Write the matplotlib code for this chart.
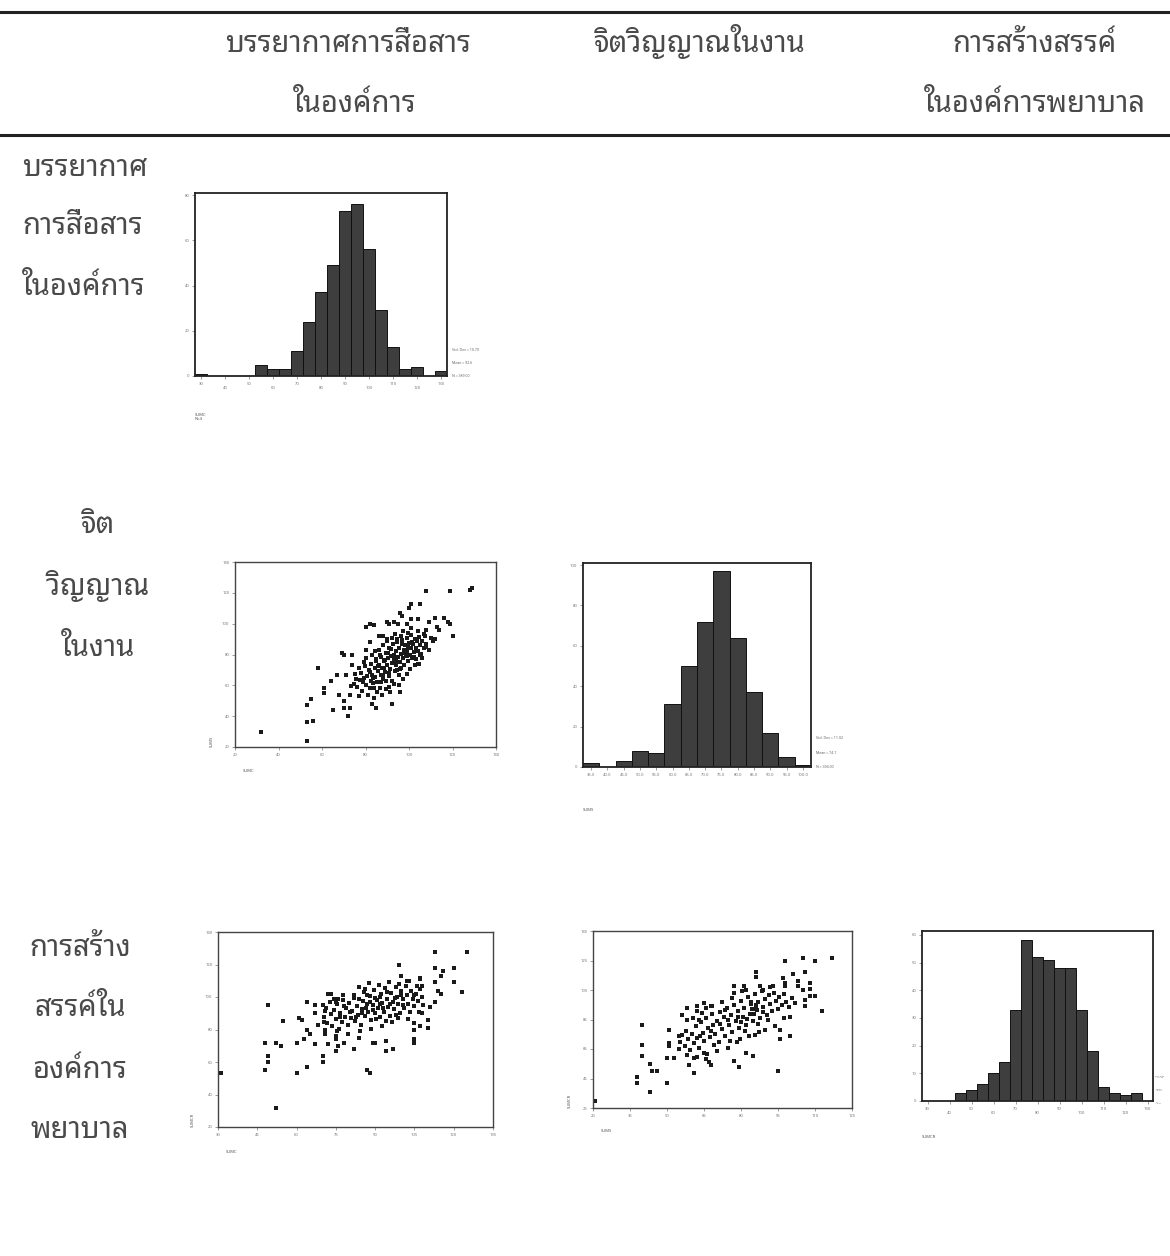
import numpy as np
import matplotlib
matplotlib.use("Agg")
import matplotlib.pyplot as plt
from matplotlib import font_manager
from matplotlib.ft2font import FT2Font
from matplotlib.lines import Line2D

W, H = 1170, 1256

# ---------------- data ----------------
col_titles = [["บรรยากาศการสื่อสาร", "ในองค์การ"],
              ["จิตวิญญาณในงาน"],
              ["การสร้างสรรค์", "ในองค์การพยาบาล"]]
row_titles = [["บรรยากาศ", "การสื่อสาร", "ในองค์การ"],
              ["จิต", "วิญญาณ", "ในงาน"],
              ["การสร้าง", "สรรค์ใน", "องค์การ", "พยาบาล"]]

# histogram: communication climate (SUMC)
h1_centers = [30, 35, 40, 45, 50, 55, 60, 65, 70, 75, 80, 85, 90, 95, 100,
              105, 110, 115, 120, 125, 130]
h1_counts = [1, 0, 0, 0, 0, 5, 3, 3, 11, 24, 37, 49, 73, 76, 56, 29, 13, 3, 4, 0, 2]
h1_legend = ["Std. Dev = 10.70", "Mean = 92.6", "N = 389.00"]

# histogram: spirit in work
h2_centers = [35, 40, 45, 50, 55, 60, 65, 70, 75, 80, 85, 90, 95, 100]
h2_counts = [2, 0, 3, 8, 7, 31, 50, 72, 97, 64, 37, 17, 5, 1]
h2_legend = ["Std. Dev = 11.02", "Mean = 74.1", "N = 394.00"]

# histogram: creativity
h3_centers = [30, 35, 40, 45, 50, 55, 60, 65, 70, 75, 80, 85, 90, 95, 100,
              105, 110, 115, 120, 125, 130]
h3_counts = [0, 0, 0, 3, 4, 6, 10, 14, 33, 58, 52, 51, 48, 48, 33, 18, 5, 3, 2, 3, 0]
h3_legend = ["Std. Dev\n= 12.46", "Mean\n= 84.3", "N\n= 391"]

# scatter: communication climate (x) vs spirit in work (y)
s1_points = [
    (32, 30), (53, 24), (53, 36), (53, 47), (56, 37), (55, 51), (58, 71), (61, 58),
    (61, 55), (64, 63), (65, 44), (67, 67), (68, 54), (69, 81), (70, 80), (70, 50),
    (70, 45), (71, 67), (72, 40), (73, 45), (73, 54), (74, 80), (77, 53), (83, 48),
    (84, 52), (85, 45), (92, 48), (96, 56), (91, 59), (108, 121), (119, 121),
    (128, 122), (129, 123), (101, 113), (105, 113), (100, 110), (96, 107), (97, 105),
    (101, 103), (104, 103), (112, 104), (116, 104), (118, 101), (119, 100), (109, 101),
    (113, 98), (114, 96), (120, 92), (80, 98), (82, 100), (84, 99), (90, 101), (91, 100),
    (93, 101), (95, 100), (99, 100), (86, 92), (88, 92), (82, 88), (90, 90), (108, 96),
    (107, 93), (110, 91), (112, 90), (111, 89), (108, 85), (109, 83), (105, 80), (106, 78),
    (104, 74), (80, 83), (74, 73),
    (74.5, 61), (75, 67.5), (76.2, 59), (76.8, 71), (77.5, 63.5), (78.1, 68), (78.6, 56.5),
    (79.3, 65), (79.9, 72.5), (80.4, 60.5), (80.8, 66), (81.5, 70), (81.9, 58), (82.3, 63),
    (82.7, 74), (83.1, 67), (83.6, 61.5), (84.2, 71.5), (84.5, 65.5), (84.9, 77), (85.4, 62),
    (85.8, 69), (86.1, 73.5), (86.6, 58.5), (86.9, 66.5), (87.3, 78.5), (87.7, 71), (88.2, 64),
    (88.5, 75.5), (88.8, 68.5), (89.2, 81), (89.6, 62.5), (89.9, 73), (90.3, 77.5), (90.6, 66),
    (90.9, 84), (91.3, 70.5), (91.6, 79), (92.1, 74.5), (92.4, 63), (92.7, 86.5), (93.1, 77),
    (93.4, 69.5), (93.8, 82), (94.1, 73), (94.5, 88), (94.8, 78.5), (95.2, 66.5), (95.5, 84.5),
    (95.8, 75), (96.2, 80.5), (96.5, 71.5), (96.9, 89.5), (97.2, 77.5), (97.6, 83), (97.9, 73.5),
    (98.3, 86), (98.6, 79.5), (99.0, 91), (99.3, 82.5), (99.7, 76), (100.1, 87.5), (100.4, 80),
    (100.8, 84), (101.1, 92.5), (101.5, 78), (101.8, 86.5), (102.2, 81.5), (102.6, 90),
    (103.0, 84.5), (103.3, 77), (103.7, 88.5), (104.1, 82), (104.6, 91.5), (105.0, 86),
    (105.5, 80.5), (106.1, 89), (106.7, 84), (107.3, 92), (107.9, 87), (95.3, 60.5), (91.1, 56),
    (87.4, 53.5), (98.9, 67.5), (102.9, 73), (79.1, 75), (83.2, 79.5), (86.3, 83), (90.1, 88.5),
    (93.6, 93), (97.4, 95.5), (100.9, 97), (104.3, 95), (81.2, 54), (85.1, 55.5), (89.4, 57.5),
    (93.2, 61), (97.1, 64), (100.6, 70.5), (104.8, 74), (77.2, 53), (75.6, 64), (73.4, 59.5),
    (80.2, 77.5), (84.3, 82.5), (88.1, 86), (92.3, 90.5), (96.1, 92), (99.6, 94), (94.3, 70),
    (90.7, 68), (87.1, 62), (83.8, 58.5), (96.6, 86.5), (99.1, 79), (92.9, 80), (89.1, 76.5),
    (85.6, 72.5), (82.1, 68.5), (78.9, 62), (93.9, 75.5), (97.8, 81), (101.3, 88), (95.9, 70.5),
    (88.6, 71.5), (91.9, 83.5), (86.7, 79.5), (83.4, 64.5), (99.4, 85), (102.4, 78.5),
    (94.6, 90), (90.4, 81), (87.9, 67), (84.7, 75.5),
]

# scatter: communication climate (x) vs creativity (y)
s2_points = [
    (31, 53), (49, 95), (48, 72), (48, 55), (49, 64), (49, 60), (52, 72), (54, 70),
    (52, 32), (55, 85), (60, 53), (60, 72), (61, 87), (62, 86), (63, 74), (64, 57),
    (64, 97), (64, 80), (65, 77), (67, 95), (67, 90), (67, 71), (68, 83), (70, 64),
    (70, 60), (70, 95), (72, 102), (73, 102), (71, 80), (71, 77), (72, 71), (75, 67),
    (75, 74), (75, 76), (75, 97), (76, 99), (76, 70), (78, 72), (82, 68), (84, 75),
    (87, 55), (88, 53), (86, 105), (89, 72), (90, 72), (94, 73), (94, 67), (97, 68),
    (99, 120), (100, 113), (102, 110), (105, 74), (105, 72), (105, 84), (105, 80),
    (107, 82), (108, 90), (110, 86), (110, 81), (111, 94), (113, 128), (113, 118),
    (113, 109), (114, 104), (115, 102), (115, 113), (116, 116), (120, 118), (120, 109),
    (123, 103), (125, 128), (107, 111), (107, 112), (108, 107), (106, 107), (113, 97),
    (70.5, 88), (71.2, 93.5), (71.8, 84), (72.6, 97), (73.1, 89.5), (73.7, 82), (74.4, 92),
    (74.9, 86.5), (75.6, 95.5), (76.1, 80.5), (76.7, 90), (77.3, 84.5), (77.8, 98), (78.5, 88),
    (79.0, 93), (79.6, 82.5), (80.2, 96.5), (80.7, 87), (81.3, 91.5), (81.8, 101), (82.4, 85),
    (82.9, 94.5), (83.5, 89), (84.0, 98.5), (84.6, 83), (85.1, 92.5), (85.7, 103), (86.2, 88.5),
    (86.8, 96), (87.3, 91), (87.9, 100.5), (88.4, 86), (89.0, 95), (89.5, 104.5), (90.1, 90),
    (90.6, 98), (91.2, 93.5), (91.7, 87.5), (92.3, 102), (92.8, 96.5), (93.4, 91), (93.9, 105.5),
    (94.5, 99), (95.0, 94), (95.6, 88.5), (96.1, 102.5), (96.7, 97), (97.2, 92.5), (97.8, 106),
    (98.3, 100), (98.9, 95.5), (99.4, 90), (100.0, 103.5), (100.5, 98.5), (101.1, 93),
    (101.6, 107), (102.2, 101.5), (102.7, 96), (103.3, 90.5), (103.8, 104), (104.4, 99),
    (105.0, 94.5), (105.6, 102), (106.3, 97.5), (107.0, 105), (107.7, 100), (108.4, 95),
    (84.3, 79), (88.6, 80.5), (92.5, 82), (96.4, 84.5), (79.7, 77.5), (75.3, 79), (83.7, 106),
    (87.6, 108.5), (91.4, 107.5), (95.3, 109), (99.2, 108), (103.1, 110), (81.9, 99.5),
    (77.6, 101.5), (74.2, 99), (70.9, 91.5), (70.3, 84.5), (98.6, 87), (102.5, 86.5),
    (106.6, 91), (94.2, 85.5), (86.5, 93), (89.8, 99.5), (93.1, 93), (97.5, 99.5), (84.9, 90),
    (80.5, 91), (88.1, 97), (91.9, 100), (95.8, 96), (99.7, 101), (82.6, 88), (78.2, 94.5),
    (86.9, 101.5), (90.3, 86.5), (100.8, 95), (104.7, 101), (76.4, 87.5), (94.7, 103),
    (97.9, 89), (85.5, 97.5), (89.3, 92), (92.0, 95.5),
]

# scatter: spirit in work (x) vs creativity (y)
s3_points = [
    (21, 30), (38, 46), (38, 42), (40, 81), (40, 68), (40, 60), (43, 36), (43, 55),
    (44, 50), (46, 50), (50, 42), (50, 59), (51, 78), (51, 69), (51, 67), (53, 59),
    (55, 74), (55, 65), (56, 88), (58, 93), (58, 85), (59, 54), (61, 49), (61, 59),
    (62, 94), (62, 91), (63, 85), (65, 96), (66, 93), (68, 94), (65, 62), (66, 58),
    (67, 56), (68, 54), (77, 108), (77, 57), (79, 53), (82, 105), (82, 62), (85, 60),
    (86, 117), (86, 114), (86, 92), (89, 105), (93, 108), (95, 50), (96, 78), (96, 72),
    (98, 125), (97, 113), (98, 110), (98, 108), (100, 74), (101, 116), (103, 111),
    (103, 108), (105, 127), (105, 105), (106, 98), (106, 94), (106, 117), (108, 110),
    (108, 106), (108, 101), (110, 125), (110, 101), (113, 91), (117, 127), (100, 87),
    (55.4, 70), (56.2, 74.5), (57.1, 67), (57.8, 77), (58.6, 71.5), (59.3, 64.5), (60.1, 75),
    (60.8, 69), (61.6, 80.5), (62.3, 72.5), (63.1, 66), (63.7, 83), (64.4, 76), (65.2, 70.5),
    (65.9, 86), (66.6, 79), (67.3, 73), (68.1, 88.5), (68.8, 81.5), (69.5, 75.5), (70.2, 84),
    (70.9, 69.5), (71.6, 90), (72.3, 78.5), (73.0, 86.5), (73.7, 73.5), (74.4, 92.5), (75.1, 81),
    (75.8, 88), (76.5, 76.5), (77.2, 95), (77.9, 84), (78.6, 90.5), (79.3, 79), (80.0, 97.5),
    (80.7, 86.5), (81.4, 93), (82.1, 81.5), (82.8, 100), (83.5, 89), (84.2, 95.5), (84.9, 84),
    (85.6, 102.5), (86.3, 91.5), (87.0, 97), (87.7, 86), (88.4, 104), (89.1, 93.5), (89.8, 99),
    (90.5, 88), (91.2, 101.5), (91.9, 95.5), (92.6, 90.5), (93.3, 103), (94.0, 97.5), (94.8, 92),
    (95.6, 100.5), (96.5, 95), (97.4, 102), (98.4, 97), (99.5, 93.5), (100.6, 99.5), (101.8, 96),
    (66.3, 61.5), (70.4, 63.5), (74.6, 66), (78.3, 69.5), (62.1, 59.5), (58.2, 61), (76.2, 99.5),
    (72.1, 97), (80.3, 104.5), (87.5, 108), (91.6, 107), (60.4, 86), (64.2, 89.5), (68.3, 94),
    (85.8, 74.5), (89.6, 78), (93.7, 80.5), (97.6, 86), (75.4, 70.5), (79.5, 72), (83.2, 74),
    (87.3, 76.5), (73.4, 91.5), (77.1, 103), (81.2, 107.5), (82.4, 85.5), (85.1, 88.5),
    (86.7, 82), (88.9, 90), (84.6, 92), (81.7, 77.5), (79.9, 83.5), (90.9, 84.5), (78.8, 87),
    (83.9, 97), (86.1, 95), (71.4, 82), (67.8, 77.5), (74.9, 85), (63.5, 74), (69.2, 68),
]


# ---------------- fonts ----------------
def find_thai_font():
    names = []
    for f in font_manager.fontManager.ttflist:
        try:
            if FT2Font(f.fname).get_char_index(0x0E01):
                names.append(f.name)
        except Exception:
            continue
    # looped faces first, the scan uses a looped Thai face
    for pref in ["Noto Sans Thai Looped", "Loma", "Garuda", "Waree", "Norasi",
                 "Kinnari", "Umpush", "Sawasdee", "Noto Serif Thai",
                 "Noto Sans Thai", "Noto Sans Thai UI", "Sarabun"]:
        if pref in names:
            return pref
    return names[0] if names else "DejaVu Sans"


thai = find_thai_font()
plt.rcParams["font.family"] = [thai, "DejaVu Sans"]

fig = plt.figure(figsize=(W / 100, H / 100), dpi=100)
fig.patch.set_facecolor("white")


def box(l, t, r, b):
    return [l / W, 1 - b / H, (r - l) / W, (b - t) / H]


def ftext(x, y, s, **kw):
    fig.text(x / W, 1 - y / H, s, **kw)


# ---------------- table rules and labels ----------------
for y, lw in [(12, 2.2), (135, 2.2)]:
    fig.add_artist(Line2D([0, 1], [1 - y / H, 1 - y / H], color="#222",
                          lw=lw, transform=fig.transFigure))

tkw = dict(fontsize=21, color="#4a4a4a", va="baseline", fontweight="light")
ftext(348, 52, col_titles[0][0], ha="center", **tkw)
ftext(355, 112, col_titles[0][1], ha="center", **tkw)
ftext(700, 52, col_titles[1][0], ha="center", **tkw)
ftext(1034, 52, col_titles[2][0], ha="center", **tkw)
ftext(1035, 112, col_titles[2][1], ha="center", **tkw)

for s, y in zip(row_titles[0], [176, 234, 295]):
    ftext(22, y, s, ha="left", **tkw)
for s, y in zip(row_titles[1], [533, 595, 656]):
    ftext(98, y, s, ha="center", **tkw)
for s, y in zip(row_titles[2], [956, 1016, 1078, 1138]):
    ftext(80, y, s, ha="center", **tkw)


# ---------------- small panels ----------------
def style(ax):
    for sp in ax.spines.values():
        sp.set_color("#222")
        sp.set_linewidth(1.3)
    ax.tick_params(direction="out", length=2, width=0.5, colors="#777",
                   labelsize=3, pad=2)


def hist_panel(rect, centers, counts, width, ylim, yticks, legend, xlabel,
               stagger=True, step=2, leg_x=1.02, leg_dy=0.07, leg_size=2.6):
    ax = fig.add_axes(box(*rect))
    ax.bar(centers, counts, width=width, color="#3e3e3e", edgecolor="#111",
           linewidth=0.7)
    ax.set_xlim(centers[0] - width / 2, centers[-1] + width / 2)
    ax.set_ylim(0, ylim)
    ax.set_yticks(yticks)
    ticks = centers[::step]
    ax.set_xticks(ticks)
    if stagger:
        ax.set_xticklabels(["%g" % t if i % 2 == 0 else "\n%g" % t
                            for i, t in enumerate(ticks)])
    else:
        ax.set_xticklabels(["%.1f" % t for t in ticks])
    style(ax)
    for i, s in enumerate(legend):
        ax.text(leg_x, 0.14 - i * leg_dy, s, transform=ax.transAxes,
                fontsize=leg_size, color="#666", va="center", ha="left",
                linespacing=1.0)
    ax.text(0.0, -0.2, xlabel, transform=ax.transAxes, fontsize=3,
            color="#555", ha="left", va="top")
    return ax


def scatter_panel(rect, pts, xlim, ylim, xstep, ystep, xlabel, ylabel):
    ax = fig.add_axes(box(*rect))
    xs = [p[0] for p in pts]
    ys = [p[1] for p in pts]
    ax.plot(xs, ys, "s", color="#1a1a1a", markersize=2.4, markeredgewidth=0)
    ax.set_xlim(*xlim)
    ax.set_ylim(*ylim)
    ax.set_xticks(np.arange(xlim[0], xlim[1] + 0.1, xstep))
    ax.set_yticks(np.arange(ylim[0], ylim[1] + 0.1, ystep))
    style(ax)
    for sp in ax.spines.values():
        sp.set_linewidth(1.0)
        sp.set_color("#444")
    ax.text(0.03, -0.12, xlabel, transform=ax.transAxes, fontsize=3,
            color="#555", ha="left", va="top")
    ax.text(-0.09, 0.0, ylabel, transform=ax.transAxes, fontsize=3,
            color="#555", ha="center", va="bottom", rotation=90)
    return ax


hist_panel((195, 193, 447, 376), h1_centers, h1_counts, 5, 81,
           [0, 20, 40, 60, 80], h1_legend, "SUMC\nN=4", stagger=True)
scatter_panel((235, 562, 496, 747), s1_points, (20, 140), (20, 140), 20, 20,
              "SUMC", "SUMS")
hist_panel((583, 563, 811, 767), h2_centers, h2_counts, 5, 101,
           [0, 20, 40, 60, 80, 100], h2_legend, "SUMS", stagger=False, step=1)
scatter_panel((218, 932, 493, 1127), s2_points, (30, 135), (20, 140), 15, 20,
              "SUMC", "SUMCR")
scatter_panel((593, 931, 852, 1108), s3_points, (20, 125), (25, 145), 15, 20,
              "SUMS", "SUMCR")
hist_panel((922, 931, 1153, 1101), h3_centers, h3_counts, 5, 61.4,
           [0, 10, 20, 30, 40, 50, 60], h3_legend, "SUMCR", stagger=True,
           leg_x=1.01, leg_dy=0.075, leg_size=1.7)

fig.savefig("out.png", dpi=100, facecolor="white")
